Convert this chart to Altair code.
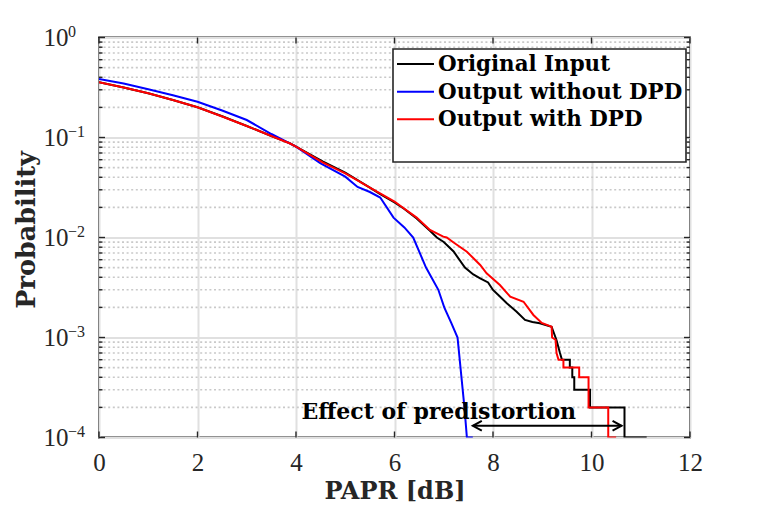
import altair as alt
import pandas as pd

# ---------------- data ----------------
series_names = ["Original Input", "Output without DPD", "Output with DPD"]
series_colors = ["#000000", "#0000ff", "#ff0000"]

orig_x = [0, 0.5, 1, 1.5, 2, 2.5, 3, 3.5, 3.88, 4.0, 4.55, 5.0, 5.5, 5.71, 6.0,
          6.2, 6.45, 6.72, 6.86, 7.0, 7.2, 7.43, 7.6, 7.74, 7.9, 8.0, 8.14, 8.28,
          8.48, 8.65, 8.8, 8.95, 9.19, 9.29, 9.36,
          9.40, 9.56, 9.56, 9.61, 9.61, 9.65, 9.65, 9.97, 9.97, 10.67, 10.67, 11.12]
orig_p = [0.3565, 0.3162, 0.2767, 0.2371, 0.2004, 0.1629, 0.1303, 0.1035, 0.0875,
          0.0809, 0.0573, 0.0445, 0.0316, 0.0272, 0.0224, 0.0193, 0.0155, 0.0117,
          0.0100, 0.00902, 0.00724, 0.00501, 0.00427, 0.00391, 0.00355, 0.00299,
          0.00257, 0.00220, 0.00181, 0.00150, 0.00143, 0.00139, 0.00128, 0.00094,
          0.00070,
          0.0006, 0.0006, 0.0005, 0.0005, 0.0004, 0.0004, 0.0003, 0.0003, 0.0002,
          0.0002, 0.0001, 0.0001]

nodpd_x = [0, 0.5, 1, 1.5, 2, 2.5, 3, 3.5, 4, 4.5, 5, 5.25, 5.5, 5.71, 5.98, 6.2,
           6.38, 6.64, 6.89, 7.01, 7.15, 7.28, 7.34, 7.42, 7.47, 7.59]
nodpd_p = [0.3846, 0.3467, 0.3034, 0.2642, 0.2280, 0.1862, 0.1496, 0.1084, 0.0809,
           0.0552, 0.0406, 0.0320, 0.0285, 0.0251, 0.0158, 0.0126, 0.0100, 0.0050,
           0.0030, 0.0020, 0.00141, 0.0010, 0.0005, 0.0002, 0.0001, 0.0001]

dpd_x = [0, 0.5, 1, 1.5, 2, 2.5, 3, 3.5, 3.88, 4.0, 4.55, 5.0, 5.23, 5.5, 5.77, 6.0,
         6.18, 6.45, 6.72, 6.99, 7.06, 7.2, 7.47, 7.74, 7.87, 8.14, 8.35, 8.62, 8.82,
         8.99, 9.16,
         9.19, 9.20, 9.27, 9.29, 9.33, 9.43, 9.43, 9.75, 9.75, 9.94, 9.94, 10.34,
         10.34, 10.5]
dpd_p = [0.3565, 0.3162, 0.2767, 0.2371, 0.2004, 0.1622, 0.1303, 0.1035, 0.0871,
         0.0809, 0.0562, 0.0437, 0.0376, 0.0316, 0.0266, 0.0229, 0.0197, 0.0158,
         0.0119, 0.0102, 0.0100, 0.00891, 0.00721, 0.00531, 0.00439, 0.00335,
         0.00256, 0.00228, 0.00168, 0.00140, 0.00130,
         0.00128, 0.00100, 0.00095, 0.0007, 0.0006, 0.0006, 0.0005, 0.0005, 0.0004,
         0.0004, 0.0002, 0.0002, 0.0001, 0.0001]

x_ticks = [0, 2, 4, 6, 8, 10, 12]
y_major = [0.0001, 0.001, 0.01, 0.1, 1]
y_exponents = ["\u22124", "\u22123", "\u22122", "\u22121", "0"]
y_minor = [0.0002, 0.0003, 0.0004, 0.0005, 0.0006, 0.0007, 0.0008, 0.0009,
           0.002, 0.003, 0.004, 0.005, 0.006, 0.007, 0.008, 0.009,
           0.02, 0.03, 0.04, 0.05, 0.06, 0.07, 0.08, 0.09,
           0.2, 0.3, 0.4, 0.5, 0.6, 0.7, 0.8, 0.9]

annot_text = "Effect of predistortion"
annot_x = [6.90]
annot_p = [1.52e-4]
arrow_x = [7.59, 10.61]
arrow_p = [1.31e-4]

# ---------------- layout / style ----------------
W, H = 591, 400
FRAME = "#262626"
SERIF = "Liberation Serif"
BOLD = "DejaVu Serif"
LABEL_PAD = 31

X_ENC = alt.X(
    "x:Q",
    scale=alt.Scale(domain=[0, 12], nice=False, zero=False),
    axis=alt.Axis(values=x_ticks, grid=True, ticks=False, tickSize=0, domain=False,
                  format="d", labelFlush=False, labelFont=SERIF, labelFontSize=25,
                  labelPadding=13, labelColor=FRAME, title="PAPR [dB]", titleFont=BOLD,
                  titleFontWeight="bold", titleFontSize=24, titleColor=FRAME,
                  titleBaseline="alphabetic", titleY=61, titleX=W / 2),
)
Y_ENC = alt.Y(
    "p:Q",
    scale=alt.Scale(type="log", domain=[0.0001, 1], nice=False),
    axis=alt.Axis(values=y_major, grid=True, ticks=False, tickSize=0, domain=False,
                  labelExpr="'10'", labelFlush=False, labelFont=SERIF, labelFontSize=25,
                  labelPadding=LABEL_PAD, labelColor=FRAME, title="Probability",
                  titleFont=BOLD, titleFontWeight="bold", titleFontSize=25.5,
                  titleColor=FRAME, titleAngle=270, titleBaseline="alphabetic",
                  titleAlign="center", titleX=-65, titleY=192),
)

one = pd.DataFrame({"a": [0]})
minor_df = pd.DataFrame({"p": y_minor})
major_df = pd.DataFrame({"p": y_major})
xt_df = pd.DataFrame({"x": x_ticks})
exp_df = pd.DataFrame({"p": y_major, "t": y_exponents})

layers = []

# minor dotted grid
layers.append(
    alt.Chart(minor_df).mark_rule(color="#c9c9c9", strokeWidth=1.6, strokeDash=[2, 2.6])
    .encode(y=Y_ENC, x=alt.value(0), x2=alt.value(W))
)

# data lines: black, blue, red (red on top)
for name, color, xs, ps in zip(series_names, series_colors,
                               [orig_x, nodpd_x, dpd_x], [orig_p, nodpd_p, dpd_p]):
    df = pd.DataFrame({"x": xs, "p": ps, "i": list(range(len(xs)))})
    layers.append(
        alt.Chart(df).mark_line(color=color, strokeWidth=2, clip=True)
        .encode(x=X_ENC, y=Y_ENC, order="i:Q")
    )

# inward ticks (box style)
for df, L in [(major_df, 6), (minor_df, 3.5)]:
    layers.append(alt.Chart(df).mark_rule(color=FRAME, strokeWidth=1.4)
                  .encode(y=Y_ENC, x=alt.value(0), x2=alt.value(L)))
    layers.append(alt.Chart(df).mark_rule(color=FRAME, strokeWidth=1.4)
                  .encode(y=Y_ENC, x=alt.value(W), x2=alt.value(W - L)))
layers.append(alt.Chart(xt_df).mark_rule(color=FRAME, strokeWidth=1.4)
              .encode(x=X_ENC, y=alt.value(H), y2=alt.value(H - 6)))
layers.append(alt.Chart(xt_df).mark_rule(color=FRAME, strokeWidth=1.4)
              .encode(x=X_ENC, y=alt.value(0), y2=alt.value(6)))

# superscript exponents of the y tick labels (10^k)
layers.append(
    alt.Chart(exp_df).mark_text(align="left", baseline="alphabetic", font=SERIF,
                                fontSize=16, color=FRAME, dy=-1)
    .encode(x=alt.value(-LABEL_PAD), y=Y_ENC, text="t:N")
)

# legend box
layers.append(
    alt.Chart(one).mark_rect(fill="white", stroke=FRAME, strokeWidth=1.6)
    .encode(x=alt.value(294), x2=alt.value(587), y=alt.value(11.5), y2=alt.value(124.5))
)
row_y = [26.5, 54.2, 81.8]
for name, color, ry in zip(series_names, series_colors, row_y):
    layers.append(
        alt.Chart(one).mark_rule(color=color, strokeWidth=2)
        .encode(x=alt.value(298), x2=alt.value(335), y=alt.value(ry))
    )
    layers.append(
        alt.Chart(one).mark_text(align="left", baseline="middle", font=BOLD,
                                 fontWeight="bold", fontSize=21.4, color="black", dy=1)
        .encode(x=alt.value(339), y=alt.value(ry), text=alt.value(name))
    )

# annotation: text + double-headed arrow
ann_df = pd.DataFrame({"x": annot_x, "p": annot_p, "t": [annot_text]})
layers.append(
    alt.Chart(ann_df).mark_text(align="center", baseline="alphabetic", font=BOLD,
                                fontWeight="bold", fontSize=22, color="black")
    .encode(x=X_ENC, y=Y_ENC, text="t:N")
)
arr_df = pd.DataFrame({"x": [arrow_x[0]], "x2": [arrow_x[1]], "p": arrow_p})
layers.append(
    alt.Chart(arr_df).mark_rule(color="black", strokeWidth=2)
    .encode(x=X_ENC, x2="x2:Q", y=Y_ENC)
)
head_l = pd.DataFrame({"x": [arrow_x[0]], "p": arrow_p})
head_r = pd.DataFrame({"x": [arrow_x[1]], "p": arrow_p})
layers.append(
    alt.Chart(head_l).mark_point(shape="M1,-0.55L0,0L1,0.55", size=324, filled=False,
                                 strokeWidth=2, color="black", opacity=1)
    .encode(x=X_ENC, y=Y_ENC)
)
layers.append(
    alt.Chart(head_r).mark_point(shape="M-1,-0.55L0,0L-1,0.55", size=324, filled=False,
                                 strokeWidth=2, color="black", opacity=1)
    .encode(x=X_ENC, y=Y_ENC)
)

chart = (
    alt.layer(*layers)
    .properties(width=W, height=H,
                autosize=alt.AutoSizeParams(type="none"),
                padding={"left": 91, "top": 29.5, "right": 50, "bottom": 72},
                background="white")
    .configure_view(stroke=FRAME, strokeWidth=2)
    .configure_axis(gridColor="#e0e0e0", gridWidth=2, gridOpacity=1)
)

chart.save("out.html", embed_options={"renderer": "svg", "actions": False})
